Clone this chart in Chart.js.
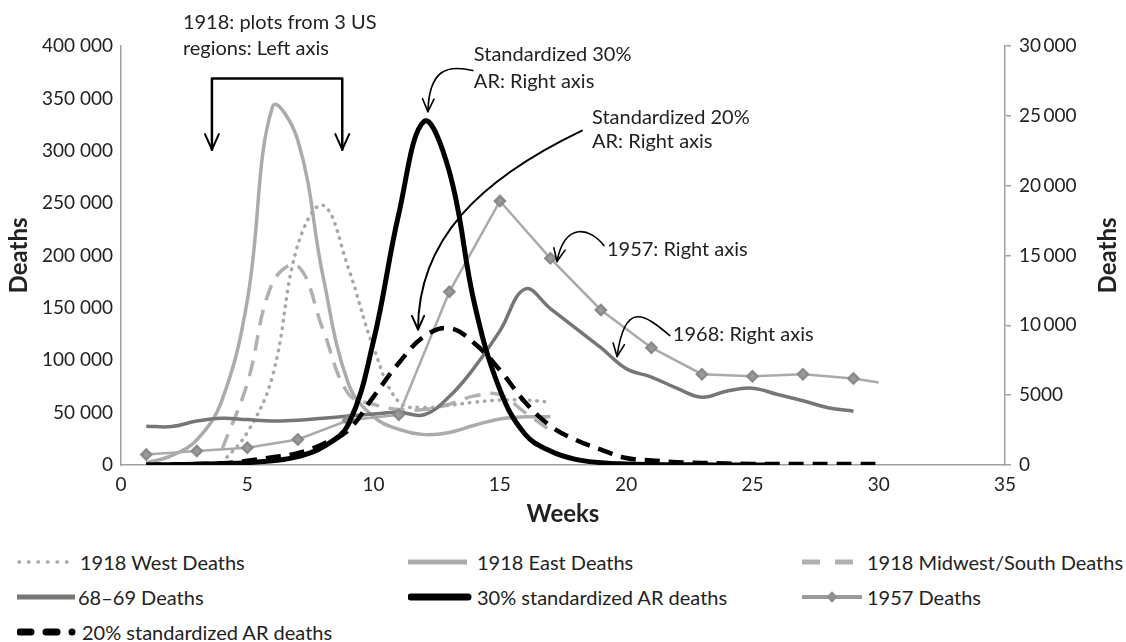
<!DOCTYPE html>
<html>
<head>
<meta charset="utf-8">
<script src="https://cdn.jsdelivr.net/npm/chart.js@4.4.1/dist/chart.umd.min.js"></script>
<style>
  html, body { margin: 0; padding: 0; background: #fff; }
  #wrap { position: relative; width: 1126px; height: 642px; font-family: Lato, "Open Sans", sans-serif; color: #222; }
  #chartBox { position: absolute; left: 0; top: 0; width: 1126px; height: 540px; }
  .lg { position: absolute; height: 30px; display: flex; align-items: center; font-size: 20px; white-space: nowrap; }
  .lg svg { flex: none; }
</style>
</head>
<body>
<div id="wrap">
  <div id="chartBox"><canvas id="fluChart"></canvas></div>
  <div id="legend"></div>
</div>
<script>
// weekly deaths
const weeks1918 = [1, 2, 3, 4, 5, 6, 7, 8, 9, 10, 11, 12, 13, 14, 15, 16, 17];
const eastDeaths = [2000, 9000, 24000, 62000, 157000, 342000, 310000, 180000, 78000, 46000, 34000, 29000, 31000, 38000, 44000, 46000, 46000];
const westDeaths = [null, null, null, 2000, 31000, 85000, 210000, 248000, 188000, 112000, 60000, 55000, 57000, 60000, 62000, 62000, 60000];
const midwestDeaths = [null, null, null, 15000, 78000, 174000, 190000, 129000, 68000, 58000, 53000, 53000, 58000, 66000, 67000, 50000, 33000];

const weeks6869 = [1, 2, 3, 4, 5, 6, 7, 8, 9, 10, 11, 12, 13, 14, 15, 16, 17, 18, 19, 20, 21, 22, 23, 24, 25, 26, 27, 28, 29];
const deaths6869 = [2780, 2750, 3150, 3350, 3250, 3150, 3200, 3350, 3500, 3650, 3780, 3600, 4900, 7000, 9600, 12600, 11200, 9800, 8400, 6900, 6300, 5500, 4850, 5300, 5500, 5050, 4600, 4100, 3850];

const weeks1957 = [1, 3, 5, 7, 9, 11, 13, 15, 17, 19, 21, 23, 25, 27, 29, 30];
const deaths1957 = [750, 1000, 1230, 1830, 3200, 3600, 12400, 18900, 14800, 11100, 8400, 6500, 6350, 6500, 6200, 5900];

const weeksAR = [1, 2, 3, 4, 5, 6, 7, 8, 9, 10, 11, 12, 13, 14, 15, 16, 17, 18, 19, 20, 21, 22, 23, 24, 25, 26, 27, 28, 29, 30];
const ar30Deaths = [0, 20, 50, 100, 170, 300, 600, 1300, 2900, 8900, 18000, 24600, 21000, 11500, 5400, 2200, 1000, 400, 170, 70, 30, 15, 10, 5, 5, 5, null, null, null, null];
const ar20Deaths = [0, 30, 70, 120, 300, 550, 850, 1500, 2500, 4900, 7300, 9200, 9800, 8700, 6800, 4500, 2800, 1800, 1100, 500, 330, 200, 150, 100, 80, 80, 80, 80, 80, 80];

const FONT = 'Lato, "Open Sans", sans-serif';
const TEXT = '#222';
const AXIS = '#a0a0a0';

function toXY(xs, ys) {
    const pts = [];
    xs.forEach((w, i) => { if (ys[i] !== null) pts.push({ x: w, y: ys[i] }); });
    return pts;
}

function groupDigits(v, sep) {
    return v >= 10000 ? String(v).replace(/\B(?=(\d{3})+(?!\d))/g, sep) : String(v);
}

// annotations: text, arrows and the right axis title
const notesPlugin = {
    id: 'notes',
    afterDatasetsDraw(chart) {
        const { ctx, scales: { x, y2 } } = chart;
        const X = w => x.getPixelForValue(w);
        const Y = v => y2.getPixelForValue(v);

        function head(tx, ty, fx, fy, size) {
            const a = Math.atan2(ty - fy, tx - fx);
            ctx.beginPath();
            ctx.moveTo(tx - size * Math.cos(a - 0.42), ty - size * Math.sin(a - 0.42));
            ctx.lineTo(tx, ty);
            ctx.lineTo(tx - size * Math.cos(a + 0.42), ty - size * Math.sin(a + 0.42));
            ctx.stroke();
        }
        function curve(p0, c1, c2, p1, size) {
            ctx.beginPath();
            ctx.moveTo(X(p0[0]), Y(p0[1]));
            ctx.bezierCurveTo(X(c1[0]), Y(c1[1]), X(c2[0]), Y(c2[1]), X(p1[0]), Y(p1[1]));
            ctx.stroke();
            head(X(p1[0]), Y(p1[1]), X(c2[0]), Y(c2[1]), size);
        }
        function label(lines, w, v, gap) {
            lines.forEach((t, i) => ctx.fillText(t, X(w), Y(v) + i * gap));
        }

        ctx.save();
        ctx.strokeStyle = '#000';
        ctx.fillStyle = TEXT;
        ctx.lineCap = 'round';
        ctx.lineJoin = 'round';
        ctx.font = '20px ' + FONT;
        ctx.textBaseline = 'middle';
        ctx.textAlign = 'left';

        // 1918 bracket
        label(['1918: plots from 3 US', 'regions: Left axis'], 2.45, 31680, 26);
        ctx.lineWidth = 2.5;
        ctx.beginPath();
        ctx.moveTo(X(3.6), Y(22580));
        ctx.lineTo(X(3.6), Y(27670));
        ctx.lineTo(X(8.76), Y(27670));
        ctx.lineTo(X(8.76), Y(22580));
        ctx.stroke();
        ctx.lineWidth = 2;
        head(X(3.6), Y(22580), X(3.6), Y(27670), 17);
        head(X(8.76), Y(22580), X(8.76), Y(27670), 17);

        // 30% AR
        label(['Standardized 30%', 'AR: Right axis'], 13.97, 29380, 27);
        ctx.lineWidth = 1.6;
        curve([13.93, 28240], [12.9, 28700], [12.2, 28300], [12.15, 25300], 14);

        // 20% AR
        label(['Standardized 20%', 'AR: Right axis'], 18.65, 24870, 24);
        ctx.lineWidth = 2;
        curve([18.25, 23940], [14.21, 20440], [11.76, 16140], [11.76, 9700], 15);

        // 1957
        label(['1957: Right axis'], 19.24, 15430, 0);
        ctx.lineWidth = 1.6;
        curve([19.12, 15710], [18.57, 17000], [17.58, 17430], [17.26, 14570], 14);

        // 1968
        label(['1968: Right axis'], 21.85, 9340, 0);
        curve([21.73, 9270], [20.74, 10770], [19.95, 11850], [19.64, 7770], 14);

        // right axis title
        ctx.font = 'bold 24px ' + FONT;
        ctx.textAlign = 'center';
        ctx.translate(1108, (chart.chartArea.top + chart.chartArea.bottom) / 2);
        ctx.rotate(-Math.PI / 2);
        ctx.fillText('Deaths', 0, 0);
        ctx.restore();
    }
};

const tickFont = { family: FONT, size: 19 };
const titleFont = { family: FONT, size: 24, weight: 'bold' };

const ctx = document.getElementById('fluChart').getContext('2d');
const fluChart = new Chart(ctx, {
    type: 'line',
    data: {
        datasets: [
            { label: '20% standardized AR deaths', data: toXY(weeksAR, ar20Deaths), yAxisID: 'y2',
              borderColor: '#000', borderWidth: 4.5, borderDash: [15, 9], tension: 0.4 },
            { label: '30% standardized AR deaths', data: toXY(weeksAR, ar30Deaths), yAxisID: 'y2',
              borderColor: '#000', borderWidth: 5, tension: 0.4 },
            { label: '1957 Deaths', data: toXY(weeks1957, deaths1957), yAxisID: 'y2',
              borderColor: '#aaaaaa', borderWidth: 2.5, tension: 0,
              pointStyle: 'rectRot', pointBackgroundColor: '#9a9a9a', pointBorderColor: '#8a8a8a',
              pointRadius: c => (c.dataIndex === weeks1957.length - 1 ? 0 : 5) },
            { label: '68–69 Deaths', data: toXY(weeks6869, deaths6869), yAxisID: 'y2',
              borderColor: '#767676', borderWidth: 3.5, tension: 0.4 },
            { label: '1918 West Deaths', data: toXY(weeks1918, westDeaths), yAxisID: 'y',
              borderColor: '#a8a8a8', borderWidth: 3.5, borderDash: [0.5, 7], borderCapStyle: 'round', tension: 0.4 },
            { label: '1918 Midwest/South Deaths', data: toXY(weeks1918, midwestDeaths), yAxisID: 'y',
              borderColor: '#b0b0b0', borderWidth: 3.5, borderDash: [16, 10], tension: 0.4 },
            { label: '1918 East Deaths', data: toXY(weeks1918, eastDeaths), yAxisID: 'y',
              borderColor: '#ababab', borderWidth: 3.5, tension: 0.4 }
        ]
    },
    options: {
        responsive: true,
        maintainAspectRatio: false,
        animation: false,
        elements: { point: { radius: 0 } },
        layout: { padding: { top: 46, left: 0, right: 0, bottom: 0 } },
        plugins: { legend: { display: false }, tooltip: { enabled: false } },
        scales: {
            x: {
                type: 'linear', min: 0, max: 35,
                ticks: { stepSize: 5, font: tickFont, color: TEXT, padding: 8 },
                grid: { display: false, drawTicks: false },
                border: { color: AXIS, width: 1.5 },
                title: { display: true, text: 'Weeks', font: titleFont, color: TEXT, padding: { top: 0, bottom: 11 } },
                afterFit(s) { s.height = 75; }
            },
            y: {
                position: 'left', min: 0, max: 400000,
                ticks: { stepSize: 50000, font: tickFont, color: TEXT, padding: 8, callback: v => groupDigits(v, ' ') },
                grid: { display: false, drawTicks: false },
                border: { color: AXIS, width: 1.5 },
                title: { display: true, text: 'Deaths', font: titleFont, color: TEXT, padding: { top: 5, bottom: 0 } },
                afterFit(s) { s.width = 121; }
            },
            y2: {
                position: 'right', min: 0, max: 30000,
                ticks: { stepSize: 5000, font: tickFont, color: TEXT, padding: 8, callback: v => groupDigits(v, '\u2009') },
                grid: { drawOnChartArea: false, drawTicks: true, tickLength: 6, color: AXIS, lineWidth: 1.5 },
                border: { color: AXIS, width: 1.5 },
                afterFit(s) { s.width = 121; }
            }
        }
    },
    plugins: [notesPlugin]
});

// legend, laid out in three columns like the original
const legendItems = [
    { left: 17, top: 547, w: 63, text: '1918 West Deaths',
      svg: '<line x1="2" y1="15" x2="54" y2="15" stroke="#a8a8a8" stroke-width="3.5" stroke-linecap="round" stroke-dasharray="0.5 9"/>' },
    { left: 408, top: 547, w: 69, text: '1918 East Deaths',
      svg: '<line x1="0" y1="15" x2="59" y2="15" stroke="#ababab" stroke-width="5"/>' },
    { left: 802, top: 547, w: 65, text: '1918 Midwest/South Deaths',
      svg: '<line x1="0" y1="15" x2="18" y2="15" stroke="#b0b0b0" stroke-width="5"/><line x1="33" y1="15" x2="51" y2="15" stroke="#b0b0b0" stroke-width="5"/>' },
    { left: 17, top: 582, w: 61, text: '68–69 Deaths',
      svg: '<line x1="0" y1="15" x2="58" y2="15" stroke="#767676" stroke-width="5"/>' },
    { left: 408, top: 582, w: 69, text: '30% standardized AR deaths',
      svg: '<line x1="3" y1="15" x2="60" y2="15" stroke="#000" stroke-width="7" stroke-linecap="round"/>' },
    { left: 802, top: 582, w: 65, text: '1957 Deaths',
      svg: '<line x1="0" y1="15" x2="60" y2="15" stroke="#9a9a9a" stroke-width="4"/><rect x="26" y="11" width="8" height="8" fill="#8f8f8f" transform="rotate(45 30 15)"/>' },
    { left: 17, top: 617, w: 65, text: '20% standardized AR deaths',
      svg: '<line x1="3" y1="15" x2="14" y2="15" stroke="#000" stroke-width="7" stroke-linecap="round"/><line x1="29" y1="15" x2="40" y2="15" stroke="#000" stroke-width="7" stroke-linecap="round"/><circle cx="55" cy="15" r="3.5" fill="#000"/>' }
];
const legendBox = document.getElementById('legend');
legendItems.forEach(item => {
    const div = document.createElement('div');
    div.className = 'lg';
    div.style.left = item.left + 'px';
    div.style.top = item.top + 'px';
    div.innerHTML = '<svg width="' + item.w + '" height="30">' + item.svg + '</svg><span>' + item.text + '</span>';
    legendBox.appendChild(div);
});
</script>
</body>
</html>
